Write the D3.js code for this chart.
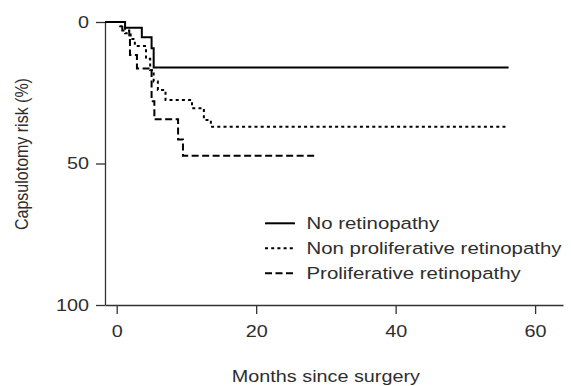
<!DOCTYPE html>
<html>
<head>
<meta charset="utf-8">
<script src="https://cdn.jsdelivr.net/npm/d3@7"></script>
<style>
  html, body { margin: 0; padding: 0; background: #fff; }
  svg { display: block; }
  text { font-family: "Liberation Sans", Arial, Helvetica, sans-serif; fill: #2e2e2e; }
</style>
</head>
<body>
<svg id="chart" width="571" height="386"></svg>
<script>
// Kaplan-Meier style capsulotomy risk (%) by months since surgery
const seriesNames = ["No retinopathy", "Non proliferative retinopathy", "Proliferative retinopathy"];

// step points: [month, cumulative risk %]
const noRetinopathy = [
  [0, 0], [1.2, 2], [3.6, 5.4], [5.0, 9.3], [5.3, 16.1], [56.2, 16.1]
];
const nonProliferative = [
  [0, 0], [0.5, 1.5], [1.2, 4], [2.0, 6], [2.6, 8.5], [4.2, 13], [4.8, 17],
  [5.3, 21], [5.9, 24], [7.0, 27.6], [10.8, 30.5], [12.5, 34.6], [13.5, 37], [56.2, 37]
];
const proliferative = [
  [0, 0], [0.8, 3], [1.8, 5.2], [1.9, 11.7], [2.9, 16.4], [5.0, 28], [5.4, 34.4],
  [8.8, 41.5], [9.5, 47.3], [28.7, 47.3]
];

const xTicks = [0, 20, 40, 60];
const yTicks = [0, 50, 100];
const xTitle = "Months since surgery";
const yTitle = "Capsulotomy risk (%)";

const dashes = [null, "3,3.2", "7,3.5"];
const SX = 1.2;           // horizontal type stretch
const FS = 16.5;

const svg = d3.select("#chart");
const x = d3.scaleLinear().domain([-1.68, 64]).range([105, 563]);
const y = d3.scaleLinear().domain([0, 100]).range([22, 305]);

// axes
const gx = svg.append("g").attr("transform", `translate(0,${y.range()[1]})`)
  .call(d3.axisBottom(x).tickValues(xTicks).tickSize(9).tickSizeOuter(0).tickPadding(11));
const gy = svg.append("g").attr("transform", `translate(${x.range()[0]},0)`)
  .call(d3.axisLeft(y).tickValues(yTicks).tickSize(9).tickSizeOuter(0).tickPadding(7));

[gx, gy].forEach(g => {
  g.select(".domain").attr("stroke", "#333").attr("stroke-width", 1.3);
  g.selectAll(".tick line").attr("stroke", "#333").attr("stroke-width", 1.3);
  g.selectAll(".tick text").attr("font-size", FS).attr("font-family", null).attr("fill", "#2e2e2e");
});
gx.selectAll(".tick text").attr("transform", `scale(${SX},1)`);
gy.selectAll(".tick text").attr("x", -16 / SX).attr("transform", `scale(${SX},1)`);

// curves
const line = d3.line().x(d => x(d[0])).y(d => y(d[1])).curve(d3.curveStepAfter);
const series = [noRetinopathy, nonProliferative, proliferative];
series.forEach((s, i) => {
  const pts = [[x.domain()[0], 0]].concat(s);
  svg.append("path")
    .attr("d", line(pts))
    .attr("fill", "none")
    .attr("stroke", "#000")
    .attr("stroke-width", 2)
    .attr("stroke-dasharray", dashes[i]);
});

// legend
const lg = svg.append("g");
seriesNames.forEach((name, i) => {
  const cy = 223.3 + i * 25;
  lg.append("line")
    .attr("x1", 265).attr("x2", 295).attr("y1", cy).attr("y2", cy)
    .attr("stroke", "#000").attr("stroke-width", 2)
    .attr("stroke-dasharray", dashes[i]);
  lg.append("text")
    .attr("transform", `translate(306.5,${cy + 6}) scale(${SX},1)`)
    .attr("font-size", 17)
    .text(name);
});

// axis titles
svg.append("text")
  .attr("transform", `translate(${x(30)},381.5) scale(${SX},1)`)
  .attr("text-anchor", "middle")
  .attr("font-size", FS)
  .text(xTitle);

svg.append("text")
  .attr("transform", `translate(28,154) scale(${SX},1) rotate(-90)`)
  .attr("text-anchor", "middle")
  .attr("font-size", 16)
  .text(yTitle);
</script>
</body>
</html>
